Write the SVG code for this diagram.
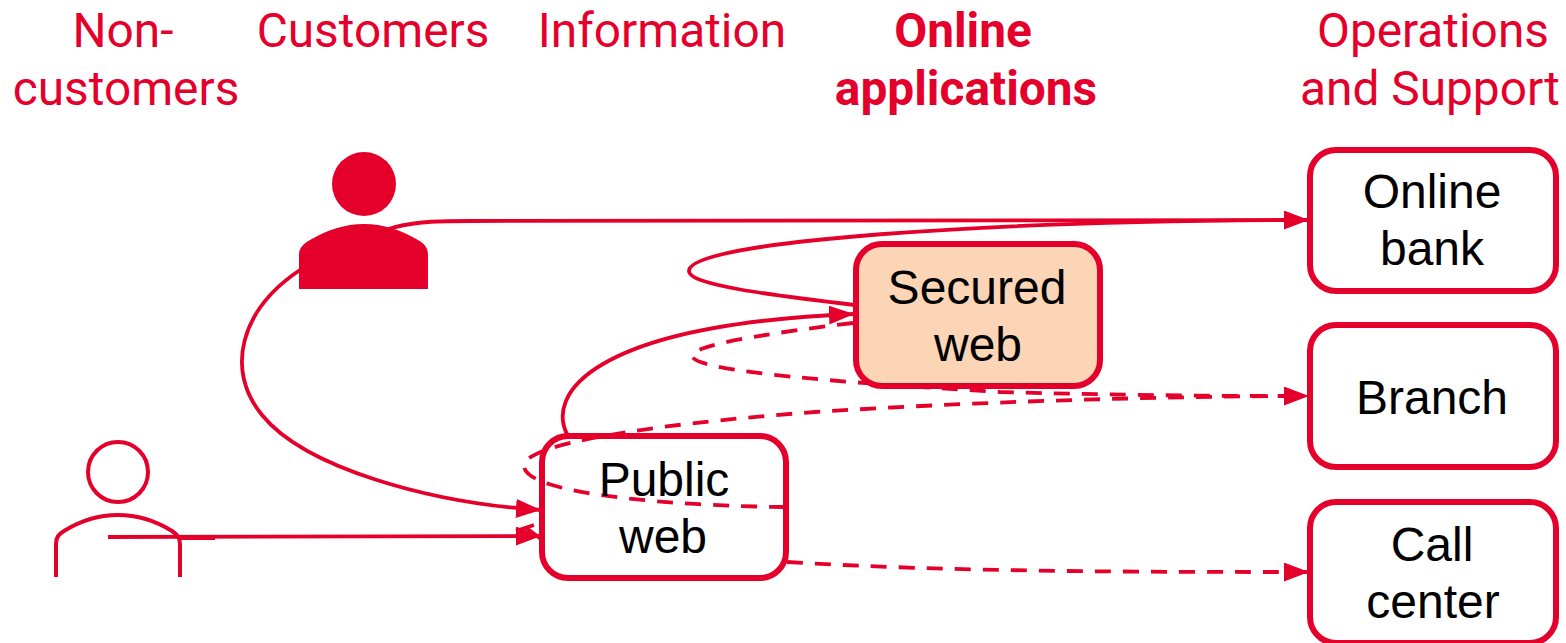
<svg xmlns="http://www.w3.org/2000/svg" width="1566" height="643" viewBox="0 0 1566 643">
<style>
.h{font-family:Roboto,"Liberation Sans",sans-serif;font-size:47.8px;fill:#E4002B;text-anchor:middle}
.b{font-family:"Liberation Sans",Arial,sans-serif;font-size:48px;fill:#000;text-anchor:middle}
.box{fill:#fff;stroke:#E4002B;stroke-width:6}
.c{fill:none;stroke:#E4002B;stroke-width:3.8}
.a{marker-end:url(#arr)}
.d{stroke-dasharray:16 12}
</style>
<defs>
<marker id="arr" markerUnits="userSpaceOnUse" markerWidth="26" markerHeight="20" refX="25" refY="9.5" orient="auto"><path d="M0 0L25 9.5L0 19Z" fill="#E4002B"/></marker>
</defs>
<g id="headers">
<text class="h" x="123" y="47">Non-</text><text class="h" x="126" y="105">customers</text>
<text class="h" x="373" y="47">Customers</text>
<text class="h" x="662" y="47">Information</text>
<text class="h" x="963" y="47" font-weight="700">Online</text><text class="h" x="966" y="105" font-weight="700">applications</text>
<text class="h" x="1433" y="47">Operations</text><text class="h" x="1430" y="105">and Support</text>
</g>
<g id="connectors">
<path class="c a" d="M385 230C410 222 430 221 470 221L1309 220"/>
<path class="c" d="M855 305C770 295 689 285 689 271C689 240 1000 221 1290 220"/>
<path class="c a" d="M300 270C240 310 225 370 262 415C305 468 430 503 541 510"/>
<path class="c a" d="M108 537L541 536"/>
<path class="c" d="M180 538L215 538"/>
<path class="c" d="M516 531L534 525M525 527L541 539"/>
<path class="c a" d="M568 436C545 395 590 325 854 314"/>
<path class="c d" d="M853 323C770 333 692 345 692 356C695 372 850 383 1000 392C1150 396 1250 396 1285 396"/>
<path class="c d a" d="M785 507C680 506 522 495 524 465C526 445 640 425 815 412C1000 400 1200 396 1309 396"/>
<path class="c d a" d="M787 562C950 572 1150 572 1309 572"/>
</g>
<g id="customers">
<circle cx="364" cy="184" r="32" fill="#E4002B"/>
<path d="M299 289V255C299 248 303 244 310 240C327 230 345 224 364 224C383 224 401 230 418 240C425 244 428 248 428 255V289Z" fill="#E4002B"/>
</g>
<g id="non-customers" fill="none" stroke="#E4002B" stroke-width="4">
<circle cx="118" cy="472" r="30"/>
<path d="M56 577V544C56 537 59 534 64 531C80 521 99 515 118 515C137 515 156 521 172 531C178 535 180 538 180 544V577"/>
</g>
<g id="online-bank"><rect class="box" x="1310" y="150" width="246" height="141" rx="26"/><text class="b" x="1432" y="208">Online</text><text class="b" x="1432" y="265">bank</text></g>
<g id="branch"><rect class="box" x="1310" y="325" width="246" height="142" rx="26"/><text class="b" x="1432" y="414">Branch</text></g>
<g id="call-center"><rect class="box" x="1310" y="502" width="246" height="141" rx="26"/><text class="b" x="1432" y="561">Call</text><text class="b" x="1433" y="618">center</text></g>
<g id="secured-web"><rect class="box" style="fill:#FBD5B5" x="856" y="244" width="244" height="142" rx="26"/><text class="b" x="977" y="304">Secured</text><text class="b" x="978" y="361">web</text></g>
<g id="public-web"><rect class="box" style="fill:none" x="542" y="436" width="244" height="142" rx="26"/><text class="b" x="664" y="496">Public</text><text class="b" x="663" y="553">web</text></g>
</svg>
